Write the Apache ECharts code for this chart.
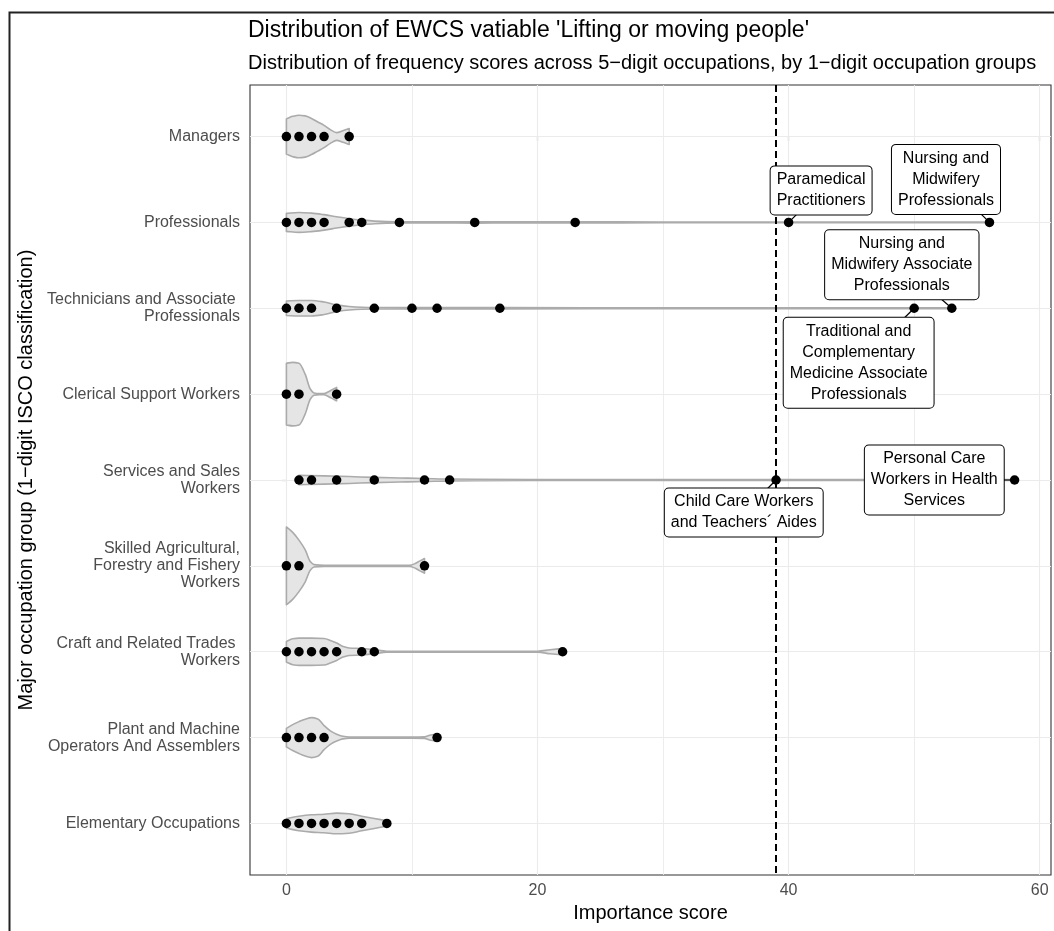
<!DOCTYPE html>
<html>
<head>
<meta charset="utf-8">
<script src="https://cdn.jsdelivr.net/npm/echarts@6/dist/echarts.min.js"></script>
<style>html,body{margin:0;padding:0;background:#fff;}#c{width:1054px;height:931px;}</style>
</head>
<body>
<div id="c"></div>
<script>
// ---------- DATA ----------
const titleText = "Distribution of EWCS vatiable 'Lifting or moving people'";
const subtitleText = "Distribution of frequency scores across 5\u2212digit occupations, by 1\u2212digit occupation groups";
const xTitle = "Importance score";
const yTitle = "Major occupation group (1\u2212digit ISCO classification)";

const groupLabels = [
  "Managers",
  "Professionals",
  "Technicians and Associate \nProfessionals",
  "Clerical Support Workers",
  "Services and Sales\nWorkers",
  "Skilled Agricultural,\nForestry and Fishery\nWorkers",
  "Craft and Related Trades \nWorkers",
  "Plant and Machine\nOperators And Assemblers",
  "Elementary Occupations"
];

const xTicks = [0, 20, 40, 60];
const xMinorGrid = [10, 30, 50];

// scores of the 5-digit occupations in each group
const managers      = [0, 1, 2, 3, 5];
const professionals = [0, 1, 2, 3, 5, 6, 9, 15, 23, 40, 56];
const technicians   = [0, 1, 2, 4, 7, 10, 12, 17, 50, 53];
const clerical      = [0, 1, 4];
const services      = [1, 2, 4, 7, 11, 13, 39, 58];
const skilled       = [0, 1, 11];
const craft         = [0, 1, 2, 3, 4, 6, 7, 22];
const plant         = [0, 1, 2, 3, 12];
const elementary    = [0, 1, 2, 3, 4, 5, 6, 8];
const groupScores = [managers, professionals, technicians, clerical, services, skilled, craft, plant, elementary];

// violin half-widths (in category-band units): [score, halfWidth]
const vManagers = [[0,.205],[0.5,.235],[1,.248],[1.5,.24],[2,.21],[2.5,.17],[3,.13],[3.5,.08],[4,.045],[4.5,.068],[5,.093]];
const vProfessionals = [[0,.105],[1,.116],[2,.108],[3,.09],[4,.066],[5,.043],[6,.027],[7,.015],[8,.009],[9,.007],[12,.006],[15,.008],[18,.006],[23,.006],[30,.005],[40,.005],[56,.005]];
const vTechnicians = [[0,.085],[1,.09],[2,.09],[3,.073],[4,.039],[5,.02],[6,.012],[7,.009],[10,.007],[12,.007],[17,.007],[30,.005],[50,.006],[53,.006]];
const vClerical = [[0,.36],[0.5,.37],[1,.36],[1.5,.23],[1.9,.06],[2.2,.014],[2.6,.006],[3.0,.007],[3.5,.04],[4,.078]];
const vServices = [[1,.055],[3,.048],[5,.04],[7,.03],[9,.024],[11,.018],[13,.011],[15,.008],[20,.006],[40,.005],[58,.005]];
const vSkilled = [[0,.453],[0.5,.39],[1,.30],[1.5,.186],[1.9,.05],[2.2,.014],[3,.006],[9.8,.006],[10.3,.03],[10.6,.055],[11,.085]];
const vCraft = [[0,.12],[0.5,.151],[1,.159],[2,.159],[3,.155],[3.5,.131],[4,.101],[4.5,.062],[5,.043],[6,.038],[7,.023],[8,.006],[10,.005],[20,.006],[21,.023],[22,.038]];
const vPlant = [[0,.108],[0.5,.151],[1,.186],[1.5,.215],[2,.233],[2.5,.217],[3,.14],[3.5,.078],[4,.04],[4.5,.015],[5,.007],[10,.006],[11,.009],[11.5,.031],[12,.043]];
const vElementary = [[0,.055],[1,.085],[2,.101],[3,.108],[4,.12],[5,.113],[6,.085],[7,.058],[8,.031]];
const violinProfiles = [vManagers, vProfessionals, vTechnicians, vClerical, vServices, vSkilled, vCraft, vPlant, vElementary];

const threshold = 39;

// labelled occupations
const annGroup = [1, 1, 2, 2, 4, 4];
const annScore = [40, 56, 53, 50, 39, 58];
const annText = [
  "Paramedical\nPractitioners",
  "Nursing and\nMidwifery\nProfessionals",
  "Nursing and\nMidwifery Associate\nProfessionals",
  "Traditional and\nComplementary\nMedicine Associate\nProfessionals",
  "Child Care Workers\nand Teachers\u00B4 Aides",
  "Personal Care\nWorkers in Health\nServices"
];
// ---------- LAYOUT (label box offsets from the point, px) ----------
const annOffset = [[32.5,-32],[-43.5,-43],[-50,-43.5],[-55.5,54.5],[-32.3,32.5],[-80.3,0]];

const FONT = "'Liberation Sans', Arial, Helvetica, sans-serif";

const chart = echarts.init(document.getElementById('c'), null, {renderer:'canvas'});

const scatterData = [];
groupScores.forEach((arr, gi) => arr.forEach(v => scatterData.push([v, gi])));

const gridMarks = [];
xTicks.forEach(v => gridMarks.push({xAxis: v, lineStyle:{width:1.1}}));
xMinorGrid.forEach(v => gridMarks.push({xAxis: v, lineStyle:{width:0.9}}));
groupLabels.forEach((c, i) => gridMarks.push({yAxis: i, lineStyle:{width:1.1}}));

// monotone cubic path through pixel points (x increasing)
function monoTangents(pts){
  const n = pts.length, d = [], m = [];
  for (let i = 0; i < n-1; i++) d.push((pts[i+1][1]-pts[i][1])/((pts[i+1][0]-pts[i][0])||1e-6));
  for (let i = 0; i < n; i++){
    if (i === 0) m.push(d[0] || 0);
    else if (i === n-1) m.push(d[n-2] || 0);
    else if (d[i-1]*d[i] <= 0) m.push(0);
    else m.push(2/(1/d[i-1] + 1/d[i]));
  }
  return m;
}
function violinPath(top, bot){
  const mt = monoTangents(top), mb = monoTangents(bot);
  let s = 'M' + top[0][0] + ' ' + top[0][1];
  for (let i = 0; i < top.length-1; i++){
    const h = (top[i+1][0]-top[i][0])/3;
    s += ' C' + (top[i][0]+h) + ' ' + (top[i][1]+mt[i]*h) + ' ' + (top[i+1][0]-h) + ' ' + (top[i+1][1]-mt[i+1]*h) + ' ' + top[i+1][0] + ' ' + top[i+1][1];
  }
  const n = bot.length;
  s += ' L' + bot[n-1][0] + ' ' + bot[n-1][1];
  for (let i = n-1; i > 0; i--){
    const h = (bot[i][0]-bot[i-1][0])/3;
    s += ' C' + (bot[i][0]-h) + ' ' + (bot[i][1]-mb[i]*h) + ' ' + (bot[i-1][0]+h) + ' ' + (bot[i-1][1]+mb[i-1]*h) + ' ' + bot[i-1][0] + ' ' + bot[i-1][1];
  }
  return s + ' Z';
}

const option = {
  animation: false,
  backgroundColor: '#fff',
  textStyle: {fontFamily: FONT},
  title: [
    {text: titleText, left: 248, top: 19, padding: 0,
     textStyle:{fontSize: 23, fontWeight:'normal', color:'#000', fontFamily: FONT}},
    {text: subtitleText, left: 248, top: 53, padding: 0,
     textStyle:{fontSize: 20, fontWeight:'normal', color:'#000', fontFamily: FONT}}
  ],
  graphic: [
    {type:'rect', shape:{x:9.5, y:12.5, width: 1200, height: 1000}, z: -10,
     style:{fill:'none', stroke:'#222', lineWidth: 2}}
  ],
  grid: {left: 250, top: 85, right: 3, bottom: 56, show: true, borderColor:'#333', borderWidth: 1.1, backgroundColor:'transparent', containLabel:false},
  xAxis: {
    type:'value', min: -2.9, max: 60.9,
    name: xTitle, nameLocation:'middle', nameGap: 28,
    nameTextStyle:{fontSize: 20, color:'#000', fontFamily: FONT},
    axisLine:{show:false},
    axisTick:{show:true, length:5, customValues: xTicks, lineStyle:{color:'#333', width:1.1}},
    axisLabel:{customValues: xTicks, margin: 8, fontSize: 16, color:'#4d4d4d', fontFamily: FONT},
    splitLine:{show:false}
  },
  yAxis: {
    type:'value', inverse:true, min: -0.6, max: 8.6,
    name: yTitle, nameLocation:'middle', nameGap: 204, nameRotate: 90,
    nameTextStyle:{fontSize: 20, color:'#000', fontFamily: FONT},
    axisLine:{show:false},
    axisTick:{show:true, length:5, customValues: groupLabels.map((c,i)=>i), lineStyle:{color:'#333', width:1.1}},
    axisLabel:{customValues: groupLabels.map((c,i)=>i), margin: 10, fontSize: 16, lineHeight: 17, color:'#4d4d4d', fontFamily: FONT, align:'right',
      formatter: v => groupLabels[Math.round(v)]},
    splitLine:{show:false}
  },
  series: [
    {
      type:'scatter', data: [], z: 1, silent: true,
      markLine: {z: 1, silent:true, symbol:'none', animation:false, label:{show:false},
        lineStyle:{color:'#ebebeb', type:'solid'}, data: gridMarks}
    },
    {
      type:'custom', z: 2, silent: true,
      data: violinProfiles.map((p, gi) => [p[0][0], gi]),
      encode:{x:0, y:1},
      renderItem: function(params, api){
        const gi = api.value(1);
        const prof = violinProfiles[gi];
        const band = Math.abs(api.size([0,1])[1]);
        const top = [], bot = [];
        prof.forEach(function(d){
          const p = api.coord([d[0], gi]);
          top.push([p[0], p[1] - d[1]*band]);
          bot.push([p[0], p[1] + d[1]*band]);
        });
        return {type:'path', shape:{pathData: violinPath(top, bot)},
          style:{fill:'#e5e5e5', stroke:'#ababab', lineWidth:1.6, lineJoin:'round'}};
      }
    },
    {
      type:'scatter', data: [], z: 3, silent: true,
      markLine: {z: 3, silent:true, symbol:'none', animation:false, label:{show:false},
        lineStyle:{color:'#000', type:[7,4], width:2}, data: [{xAxis: threshold}]}
    },
    {
      type:'scatter', z: 4, silent:true, data: scatterData, symbol:'circle', symbolSize: 9.5,
      itemStyle:{color:'#000', opacity: 1}
    },
    {
      type:'custom', z: 5, silent:true,
      data: annScore.map((s, i) => [s, annGroup[i], i]),
      encode:{x:0, y:1},
      renderItem: function(params, api){
        const i = api.value(2);
        const p = api.coord([api.value(0), api.value(1)]);
        const c = [p[0] + annOffset[i][0], p[1] + annOffset[i][1]];
        return {type:'group', children:[
          {type:'line', shape:{x1:p[0], y1:p[1], x2:c[0], y2:c[1]}, style:{stroke:'#000', lineWidth:1.2}, z2: 1},
          {type:'text', z2: 2, x: c[0], y: c[1], style:{
            text: annText[i], align:'center', verticalAlign:'middle',
            font: "16px " + FONT, fill:'#000', lineHeight: 21,
            backgroundColor:'#fff', borderColor:'#000', borderWidth:1, borderRadius:4, padding:[3,6]
          }}
        ]};
      }
    }
  ]
};
chart.setOption(option);
</script>
</body>
</html>
